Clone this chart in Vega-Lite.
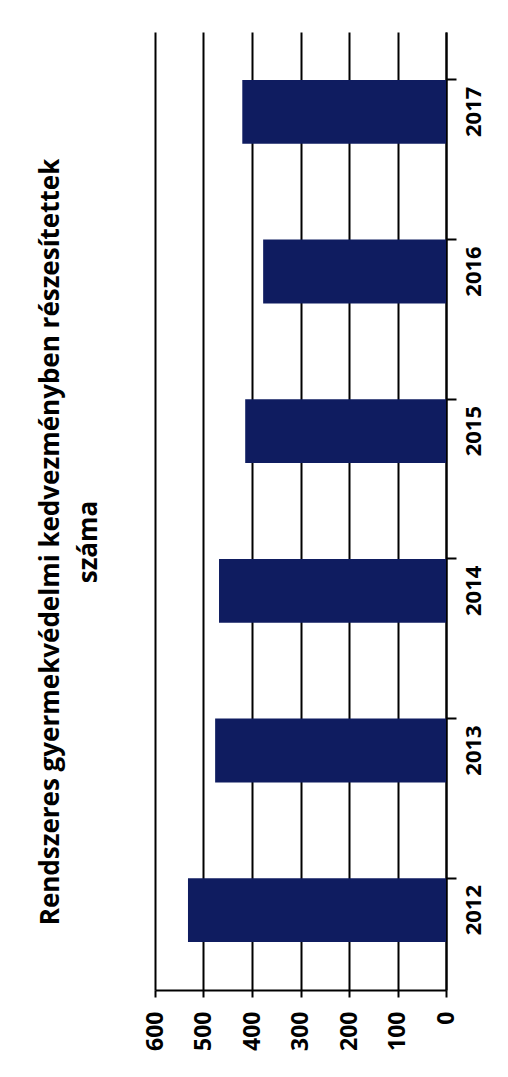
{
  "$schema": "https://vega.github.io/schema/vega-lite/v6.json",
  "width": 291,
  "height": 958,
  "autosize": "none",
  "padding": {"left": 155, "top": 32, "right": 62, "bottom": 87},
  "background": "white",
  "title": {
    "text": ["Rendszeres gyermekvédelmi kedvezményben részesítettek", "száma"],
    "orient": "left",
    "anchor": "middle",
    "font": "Open Sans",
    "fontSize": 26,
    "fontWeight": "bold",
    "color": "black",
    "offset": 42,
    "lineHeight": 38,
    "dx": -31
  },
  "data": {
    "values": [
      {"ev": "2012", "fo": 532},
      {"ev": "2013", "fo": 476},
      {"ev": "2014", "fo": 468},
      {"ev": "2015", "fo": 414},
      {"ev": "2016", "fo": 377},
      {"ev": "2017", "fo": 420}
    ]
  },
  "mark": {"type": "bar", "color": "#0f1c60"},
  "encoding": {
    "y": {
      "field": "ev",
      "type": "ordinal",
      "sort": "descending",
      "scale": {"paddingInner": 0.6, "paddingOuter": 0.3},
      "axis": {
        "orient": "right",
        "title": null,
        "labelAngle": -90,
        "labelFont": "Open Sans",
        "labelFontSize": 22,
        "labelFontWeight": "bold",
        "labelColor": "black",
        "labelPadding": 7,
        "bandPosition": 0,
        "tickSize": 10,
        "tickColor": "black",
        "tickWidth": 2,
        "domainColor": "black",
        "domainWidth": 2,
        "grid": false
      }
    },
    "x": {
      "field": "fo",
      "type": "quantitative",
      "scale": {"domain": [0, 600], "reverse": true, "nice": false},
      "axis": {
        "orient": "bottom",
        "title": null,
        "values": [0, 100, 200, 300, 400, 500, 600],
        "labelAngle": -90,
        "labelFont": "Open Sans",
        "labelFontSize": 23,
        "labelFontWeight": "bold",
        "labelColor": "black",
        "labelPadding": 14,
        "tickSize": 7,
        "tickColor": "black",
        "tickWidth": 2,
        "domainColor": "black",
        "domainWidth": 2,
        "grid": true,
        "gridColor": "black",
        "gridWidth": 2,
        "gridOpacity": 1
      }
    }
  },
  "config": {"view": {"stroke": null}}
}
